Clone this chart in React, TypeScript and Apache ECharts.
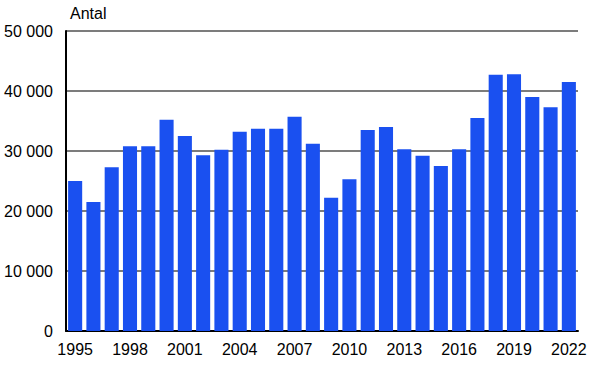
import React, { useEffect, useRef } from "react";
import * as echarts from "echarts";

const years: string[] = [
  "1995", "1996", "1997", "1998", "1999", "2000", "2001", "2002", "2003", "2004",
  "2005", "2006", "2007", "2008", "2009", "2010", "2011", "2012", "2013", "2014",
  "2015", "2016", "2017", "2018", "2019", "2020", "2021", "2022",
];
const antal: number[] = [
  25000, 21500, 27300, 30800, 30800, 35200, 32500, 29300, 30200, 33200,
  33700, 33700, 35700, 31200, 22200, 25300, 33500, 34000, 30300, 29200,
  27500, 30300, 35500, 42700, 42800, 39000, 37300, 41500,
];
const yTicks = { min: 0, max: 50000, interval: 10000 };
const yTitle = "Antal";

const fmt = (v: number) => String(v).replace(/\B(?=(\d{3})+(?!\d))/g, " ");

export default function App() {
  const ref = useRef<HTMLDivElement>(null);
  useEffect(() => {
    document.body.style.margin = "0";
    const chart = echarts.init(ref.current!, null, { renderer: "svg" });
    const font = "Arial, 'Liberation Sans', sans-serif";
    chart.setOption({
      animation: false,
      backgroundColor: "#ffffff",
      textStyle: { fontFamily: font },
      grid: { left: 66, right: 15, top: 31, bottom: 37, containLabel: false },
      graphic: [
        {
          type: "text",
          left: 70,
          top: 5,
          style: { text: yTitle, fontSize: 16, fontFamily: font, fill: "#000" },
        },
      ],
      xAxis: {
        type: "category",
        data: years,
        axisLine: { show: true, lineStyle: { color: "#000", width: 2 } },
        axisTick: { show: false },
        axisLabel: {
          interval: 2,
          color: "#000",
          fontSize: 16,
          fontFamily: font,
          margin: 10,
        },
      },
      yAxis: {
        type: "value",
        min: yTicks.min,
        max: yTicks.max,
        interval: yTicks.interval,
        axisLine: { show: true, lineStyle: { color: "#000", width: 2 } },
        axisTick: { show: false },
        splitLine: { show: true, lineStyle: { color: "#505050", width: 1.5 } },
        axisLabel: {
          color: "#000",
          fontSize: 16,
          fontFamily: font,
          margin: 13,
          formatter: (v: number) => fmt(v),
        },
      },
      series: [
        {
          type: "bar",
          data: antal,
          barCategoryGap: "23%",
          itemStyle: { color: "#1a50f0" },
          z: 3,
        },
      ],
    });
    return () => chart.dispose();
  }, []);
  return <div ref={ref} style={{ width: 593, height: 368 }} />;
}
